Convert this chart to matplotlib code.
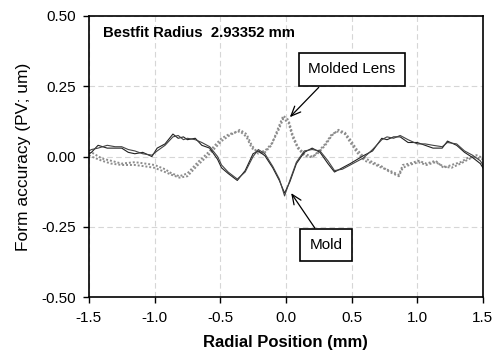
import numpy as np
import matplotlib.pyplot as plt

plt.rcParams['font.family'] = ['Liberation Sans', 'DejaVu Sans']

# mold profiles (solid lines)
mold_x = [-1.50, -1.48, -1.43, -1.36, -1.30, -1.25, -1.20, -1.15, -1.09, -1.02,
          -0.98, -0.92, -0.86, -0.82, -0.78, -0.75, -0.69, -0.64, -0.58, -0.52,
          -0.49, -0.44, -0.37, -0.31, -0.25, -0.21, -0.16, -0.10, -0.05, -0.01,
          0.03, 0.08, 0.14, 0.20, 0.26, 0.32, 0.37, 0.43, 0.49, 0.59,
          0.66, 0.73, 0.77, 0.82, 0.87, 0.93, 1.00, 1.06, 1.12, 1.19,
          1.23, 1.30, 1.36, 1.42, 1.48, 1.50]
mold1 = [0.01, 0.015, 0.04, 0.03, 0.03, 0.03, 0.015, 0.01, 0.015, 0.0,
         0.03, 0.045, 0.08, 0.065, 0.07, 0.06, 0.065, 0.04, 0.03, -0.01,
         -0.04, -0.06, -0.085, -0.05, 0.01, 0.02, 0.003, -0.04, -0.085, -0.13,
         -0.09, -0.025, 0.015, 0.03, 0.015, -0.025, -0.055, -0.04, -0.025, 0.003,
         0.02, 0.065, 0.06, 0.07, 0.07, 0.05, 0.05, 0.04, 0.03, 0.03,
         0.055, 0.04, 0.015, -0.003, -0.025, -0.04]
mold2 = [0.02, 0.025, 0.03, 0.04, 0.035, 0.035, 0.025, 0.02, 0.01, 0.005,
         0.02, 0.04, 0.07, 0.075, 0.06, 0.065, 0.06, 0.05, 0.035, 0.0,
         -0.03, -0.055, -0.08, -0.055, 0.0, 0.025, 0.01, -0.035, -0.08, -0.14,
         -0.085, -0.02, 0.02, 0.025, 0.02, -0.015, -0.05, -0.045, -0.03, -0.005,
         0.025, 0.06, 0.07, 0.065, 0.075, 0.06, 0.045, 0.045, 0.04, 0.035,
         0.05, 0.045, 0.02, 0.005, -0.015, -0.03]

# molded lens profiles (dotted lines)
lens_x = [-1.50, -1.48, -1.40, -1.33, -1.25, -1.15, -1.07, -1.00, -0.92, -0.87,
          -0.81, -0.75, -0.72, -0.67, -0.59, -0.54, -0.49, -0.43, -0.35, -0.30,
          -0.26, -0.21, -0.16, -0.11, -0.06, -0.02, 0.02, 0.05, 0.09, 0.14,
          0.20, 0.24, 0.30, 0.35, 0.40, 0.45, 0.49, 0.54, 0.60, 0.66,
          0.73, 0.79, 0.86, 0.89, 0.94, 1.01, 1.07, 1.14, 1.20, 1.26,
          1.33, 1.39, 1.45, 1.50]
lens1 = [0.01, 0.015, -0.007, -0.015, -0.025, -0.02, -0.025, -0.03, -0.045, -0.06,
         -0.07, -0.06, -0.045, -0.02, 0.015, 0.04, 0.065, 0.08, 0.09, 0.07,
         0.03, 0.015, 0.02, 0.045, 0.09, 0.135, 0.12, 0.07, 0.03, 0.003,
         -0.003, 0.015, 0.045, 0.08, 0.09, 0.08, 0.05, 0.015, -0.015, -0.025,
         -0.04, -0.05, -0.065, -0.03, -0.025, -0.015, -0.025, -0.015, -0.04, -0.03,
         -0.02, -0.003, -0.003, -0.01]
lens2 = [0.005, 0.0, -0.015, -0.025, -0.03, -0.03, -0.035, -0.04, -0.055, -0.065,
         -0.075, -0.07, -0.055, -0.03, 0.005, 0.03, 0.055, 0.075, 0.095, 0.08,
         0.04, 0.01, 0.015, 0.04, 0.1, 0.145, 0.13, 0.08, 0.035, 0.01,
         0.0, 0.01, 0.04, 0.075, 0.095, 0.085, 0.06, 0.025, -0.005, -0.02,
         -0.035, -0.055, -0.07, -0.04, -0.03, -0.02, -0.03, -0.02, -0.035, -0.04,
         -0.025, -0.01, 0.005, -0.005]

xticks = [-1.5, -1.0, -0.5, 0.0, 0.5, 1.0, 1.5]
yticks = [-0.50, -0.25, 0.00, 0.25, 0.50]

fig = plt.figure(figsize=(5.02, 3.55), dpi=100)
ax = fig.add_axes([0.177, 0.163, 0.785, 0.792])

ax.plot(lens_x, lens1, color='#8c8c8c', lw=1.4, ls=(0, (1, 1)))
ax.plot(lens_x, lens2, color='#8c8c8c', lw=1.4, ls=(0, (1, 1)))
ax.plot(mold_x, mold1, color='#222222', lw=0.8)
ax.plot(mold_x, mold2, color='#444444', lw=0.8)

ax.set_xlim(-1.5, 1.5)
ax.set_ylim(-0.5, 0.5)
ax.set_xticks(xticks)
ax.set_yticks(yticks)
ax.set_xticklabels(['%.1f' % v for v in xticks])
ax.set_yticklabels(['%.2f' % v for v in yticks])
ax.tick_params(direction='out', length=4, width=1, labelsize=11, colors='black')
ax.tick_params(axis='x', pad=6)
ax.tick_params(axis='y', pad=5)
ax.grid(True, color='#d6d6d6', ls=(0, (5, 3)), lw=0.8)
for s in ax.spines.values():
    s.set_linewidth(1.2)

ax.set_xlabel('Radial Position (mm)', fontsize=12, fontweight='bold', labelpad=7)
ax.set_ylabel('Form accuracy (PV; um)', fontsize=12.5, labelpad=8)

ax.text(-1.39, 0.44, 'Bestfit Radius  2.93352 mm', fontsize=10.7, fontweight='bold',
        va='center', ha='left')

box = dict(boxstyle='square,pad=0.6', fc='white', ec='black', lw=1.2)
arrow = dict(arrowstyle='->,head_length=0.7,head_width=0.3', color='black', lw=0.9,
             shrinkA=0, shrinkB=0)
ax.annotate('', xy=(0.03, 0.14), xytext=(0.25, 0.246), arrowprops=arrow)
ax.text(0.503, 0.31, 'Molded Lens', fontsize=11, ha='center', va='center', bbox=box)
ax.annotate('', xy=(0.04, -0.13), xytext=(0.22, -0.254), arrowprops=arrow)
ax.text(0.305, -0.314, 'Mold', fontsize=11, ha='center', va='center', bbox=box)

fig.savefig('out.png', dpi=100)
